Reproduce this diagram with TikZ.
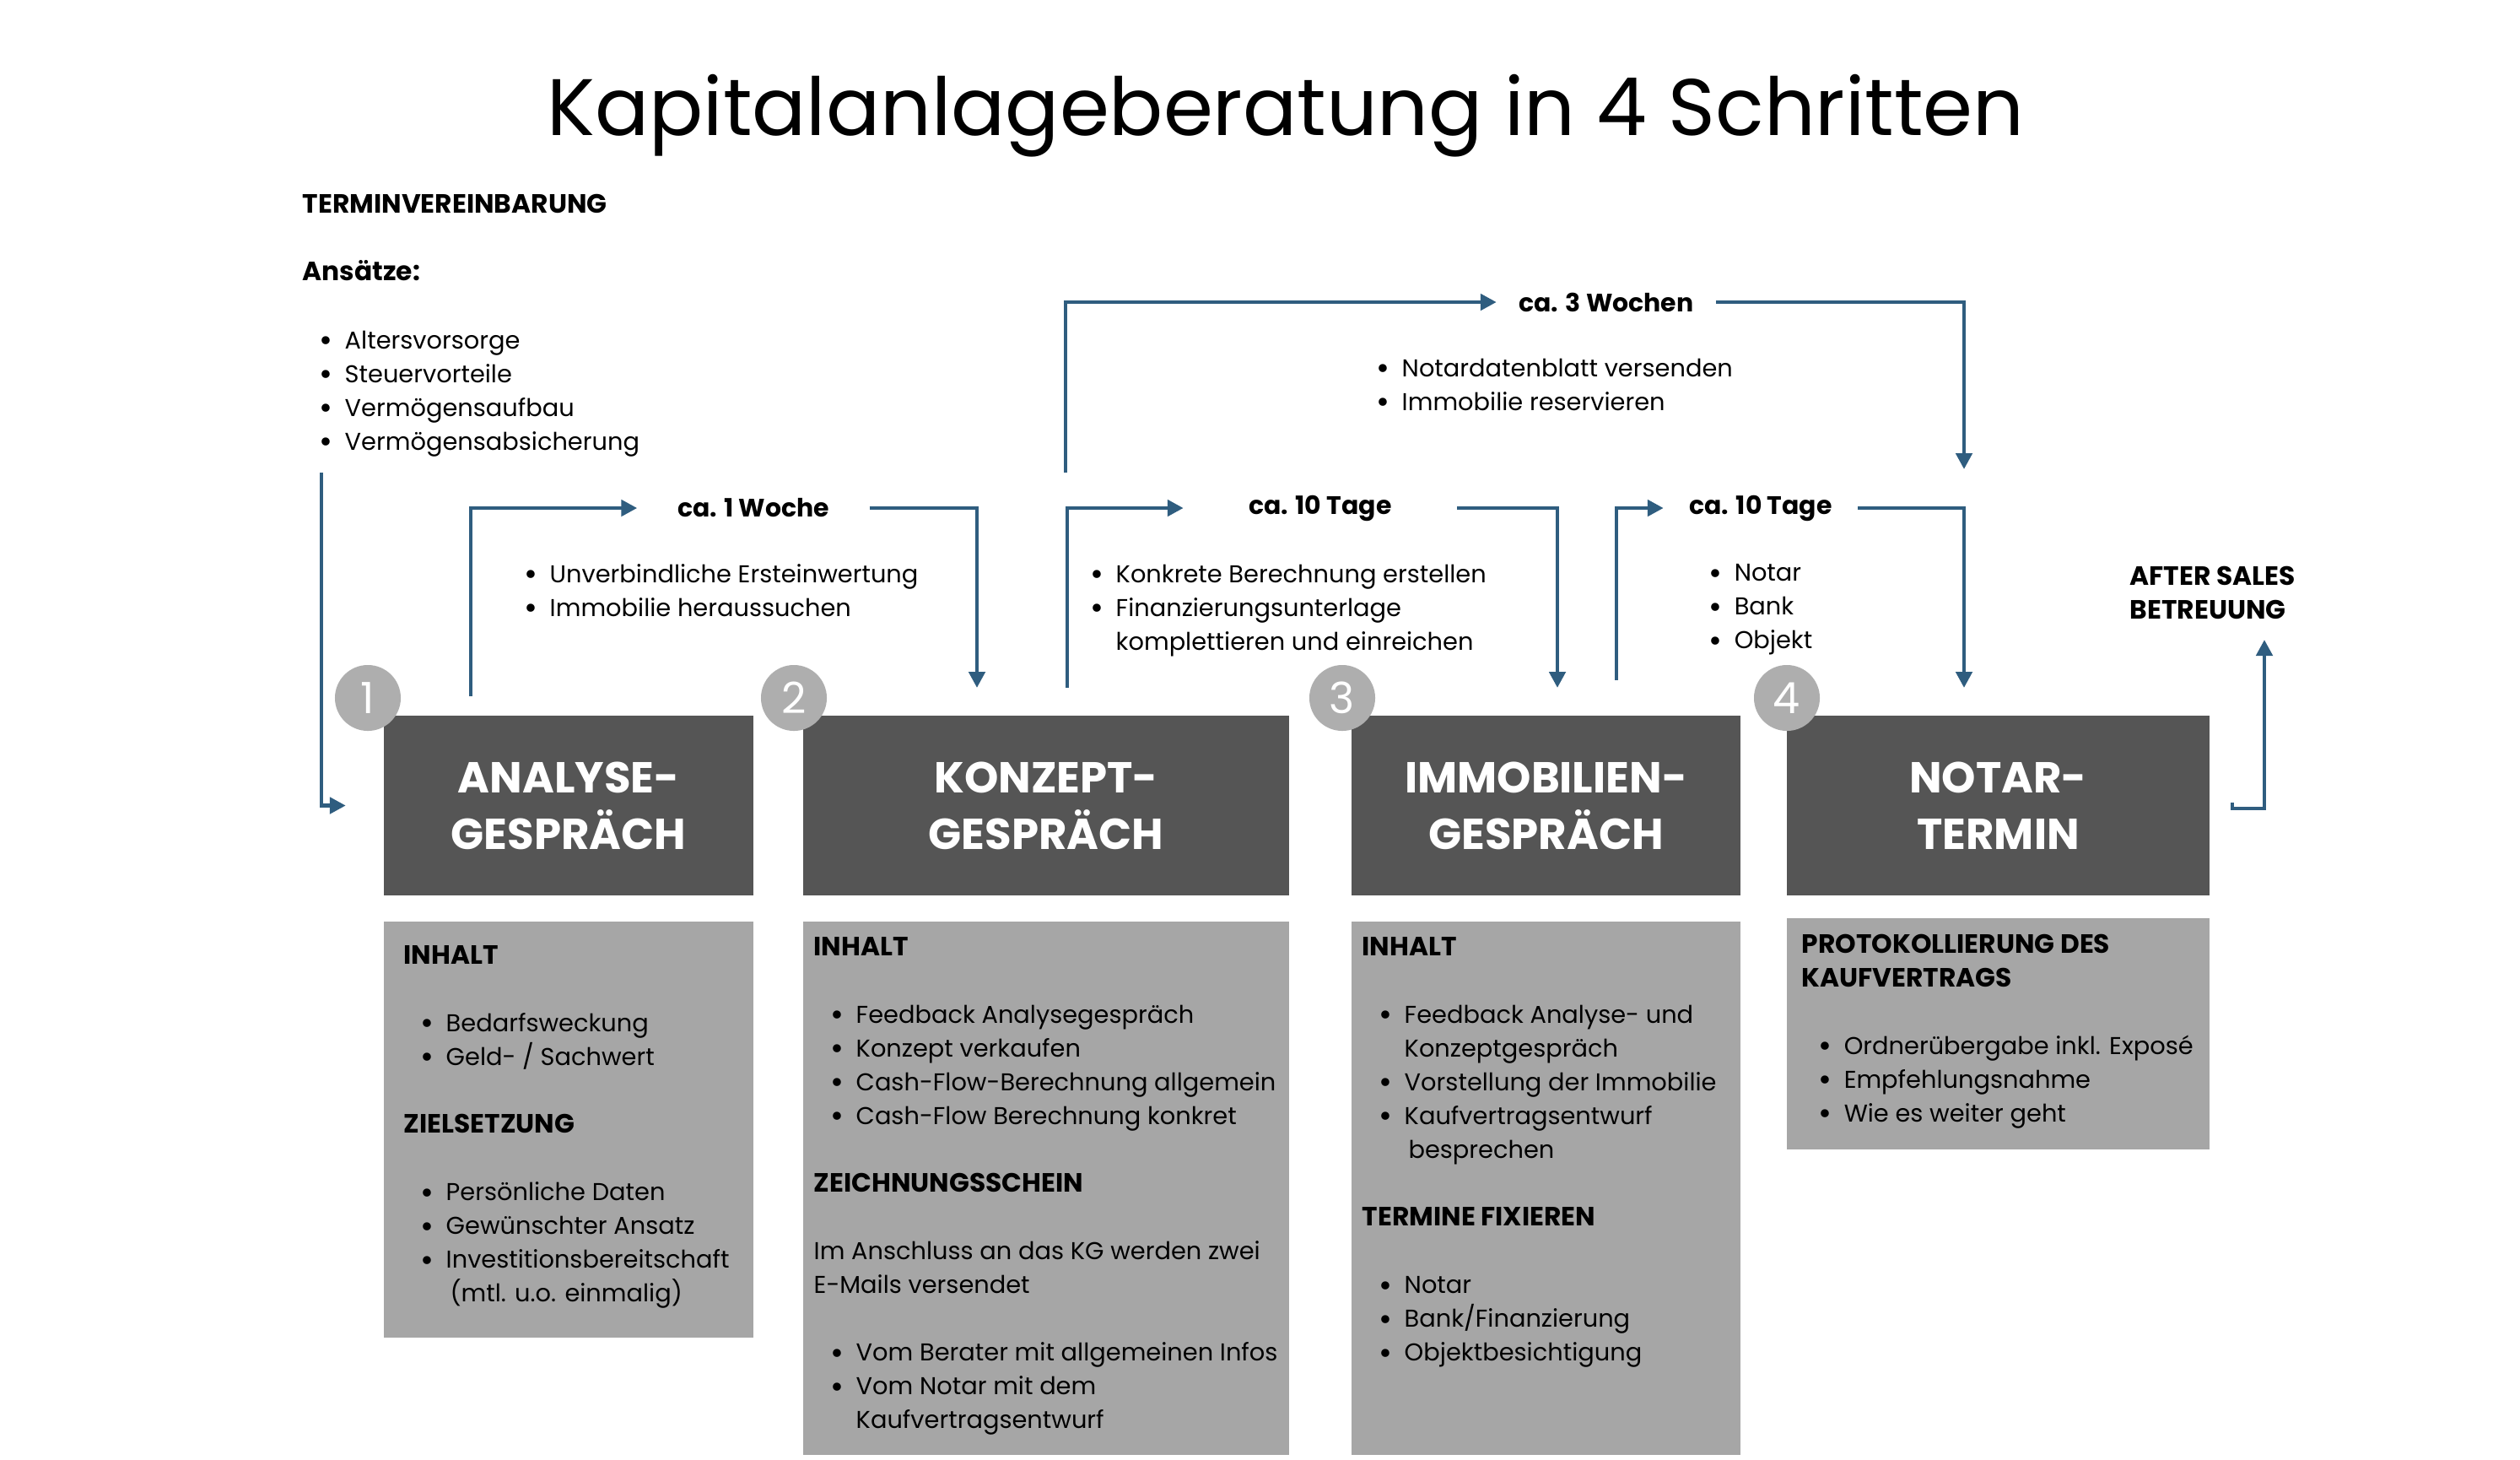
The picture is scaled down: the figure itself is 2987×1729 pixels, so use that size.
\documentclass[tikz,border=0pt]{standalone}
\usepackage{fontspec}
\setmainfont{Poppins}
\usepackage{tikz}
\usetikzlibrary{arrows.meta, positioning}
\definecolor{kabox}{HTML}{555555}
\definecolor{kalight}{HTML}{A6A6A6}
\definecolor{kacircle}{HTML}{AEAEAE}
\definecolor{kablue}{HTML}{2F5D7F}
\newcommand{\itm}[1]{\hspace*{0.2cm}\makebox[0.3cm][l]{\raisebox{-0.2ex}{\fontsize{11}{11}\selectfont\textbullet}}#1}
\newcommand{\cnt}[1]{\hspace*{0.5cm}#1}
\newcommand{\hd}[1]{{\fontsize{8.9}{11.38}\selectfont\bfseries #1}}

\begin{document}
\begin{tikzpicture}[x=0.01cm, y=-0.01cm,
  stepbox/.style={fill=kabox, inner sep=0pt, outer sep=0pt, minimum height=2.13cm, text=white, align=center, font=\fontsize{14.6}{19}\selectfont\bfseries},
  infobox/.style={fill=kalight, inner sep=0pt, outer sep=0pt},
  num/.style={circle, fill=kacircle, minimum size=0.78cm, inner sep=0pt, text=white, font=\fontsize{14.5}{16}\selectfont},
  txt/.style={anchor=north west, inner sep=0pt, align=left, font=\fontsize{8.2}{11.38}\selectfont},
  dur/.style={inner ysep=0pt, inner xsep=0.3cm, font=\fontsize{8.5}{11.38}\selectfont\bfseries},
  flow/.style={-{Triangle[length=0.19cm, width=0.19cm]}, draw=kablue, line width=1.4pt}
]
  \useasboundingbox (0,0) rectangle (2987,1729);

  % Title
  \node[font=\fontsize{27}{32}\selectfont, anchor=base] (title) at (1524,160) {Kapitalanlageberatung in 4 Schritten};

  % Terminvereinbarung
  \node[txt] (termin) at (358,230)
    {\hd{TERMINVEREINBARUNG}\\[\baselineskip]
     \hd{Ansätze:}\\[\baselineskip]
     \itm{Altersvorsorge}\\ \itm{Steuervorteile}\\ \itm{Vermögensaufbau}\\ \itm{Vermögensabsicherung}};

  % Step boxes
  \node[stepbox, minimum width=4.38cm] (analyse) at (674,954.5) {ANALYSE-\\GESPRÄCH};
  \node[stepbox, minimum width=5.76cm] (konzept) at (1240,954.5) {KONZEPT-\\GESPRÄCH};
  \node[stepbox, minimum width=4.61cm] (immo) at (1832.5,954.5) {IMMOBILIEN-\\GESPRÄCH};
  \node[stepbox, minimum width=5.01cm] (notar) at (2368.5,954.5) {NOTAR-\\TERMIN};

  % Step numbers
  \node[num] (n1) at (436,827) {1};
  \node[num] (n2) at (941,827) {2};
  \node[num] (n3) at (1591,827) {3};
  \node[num] (n4) at (2118,827) {4};

  % Info boxes
  \node[infobox, minimum width=4.38cm, minimum height=4.93cm] (info1) at (674,1338.5) {};
  \node[infobox, minimum width=5.76cm, minimum height=6.32cm] (info2) at (1240,1408) {};
  \node[infobox, minimum width=4.61cm, minimum height=6.32cm] (info3) at (1832.5,1408) {};
  \node[infobox, minimum width=5.01cm, minimum height=2.74cm] (info4) at (2368.5,1225) {};

  \node[txt] (c1) at (478,1120)
    {\hd{INHALT}\\[\baselineskip]
     \itm{Bedarfsweckung}\\ \itm{Geld- / Sachwert}\\[\baselineskip]
     \hd{ZIELSETZUNG}\\[\baselineskip]
     \itm{Persönliche Daten}\\ \itm{Gewünschter Ansatz}\\ \itm{Investitionsbereitschaft}\\
     \cnt{\,(mtl. u.o. einmalig)}};
  \node[txt] (c2) at (964,1110)
    {\hd{INHALT}\\[\baselineskip]
     \itm{Feedback Analysegespräch}\\ \itm{Konzept verkaufen}\\
     \itm{Cash-Flow-Berechnung allgemein}\\ \itm{Cash-Flow Berechnung konkret}\\[\baselineskip]
     \hd{ZEICHNUNGSSCHEIN}\\[\baselineskip]
     Im Anschluss an das KG werden zwei\\ E-Mails versendet\\[\baselineskip]
     \itm{Vom Berater mit allgemeinen Infos}\\ \itm{Vom Notar mit dem}\\ \cnt{Kaufvertragsentwurf}};
  \node[txt] (c3) at (1614,1110)
    {\hd{INHALT}\\[\baselineskip]
     \itm{Feedback Analyse- und}\\ \cnt{Konzeptgespräch}\\ \itm{Vorstellung der Immobilie}\\
     \itm{Kaufvertragsentwurf}\\ \cnt{\,besprechen}\\[\baselineskip]
     \hd{TERMINE FIXIEREN}\\[\baselineskip]
     \itm{Notar}\\ \itm{Bank/Finanzierung}\\ \itm{Objektbesichtigung}};
  \node[txt] (c4) at (2135,1106)
    {\hd{PROTOKOLLIERUNG DES}\\ \hd{KAUFVERTRAGS}\\[\baselineskip]
     \itm{Ordnerübergabe inkl. Exposé}\\ \itm{Empfehlungsnahme}\\ \itm{Wie es weiter geht}};

  % Durations and tasks between the steps
  \node[dur, inner xsep=0.47cm] (w1) at (893,602) {ca. 1 Woche};
  \node[dur, inner xsep=0.77cm] (w2) at (1565,602) {ca. 10 Tage};
  \node[dur] (w3) at (2087,602) {ca. 10 Tage};
  \node[dur, inner xsep=0.26cm] (w4) at (1904,358) {ca. 3 Wochen};

  \node[txt] (l1) at (601,668) {\itm{Unverbindliche Ersteinwertung}\\ \itm{Immobilie heraussuchen}};
  \node[txt] (l2) at (1272,668) {\itm{Konkrete Berechnung erstellen}\\ \itm{Finanzierungsunterlage}\\ \cnt{komplettieren und einreichen}};
  \node[txt] (l3) at (2005,668) {\itm{Notar}\\ \itm{Bank}\\ \itm{Objekt}};
  \node[txt] (l4) at (1611,424) {\itm{Notardatenblatt versenden}\\ \itm{Immobilie reservieren}};

  \node[txt] (after) at (2524,670) {\hd{AFTER SALES}\\ \hd{BETREUUNG}};

  % Connectors
  \coordinate (s0) at (381,560);
  \coordinate (a1) at (558,825);
  \coordinate (b1) at (1158,815);
  \coordinate (a2) at (1265,815);
  \coordinate (b2) at (1846,815);
  \coordinate (a3) at (1916,806);
  \coordinate (b3) at (2328,815);
  \coordinate (a4) at (1263,560);
  \coordinate (b4) at (2328,556);
  \coordinate (e0) at (2646,951);
  \coordinate (e1) at (2684,758);

  \draw[flow, shorten >=0.45cm] (s0) |- (analyse.west);
  \draw[flow] (a1) |- (w1);
  \draw[flow] (w1) -| (b1);
  \draw[flow] (a2) |- (w2);
  \draw[flow] (w2) -| (b2);
  \draw[flow] (a3) |- (w3);
  \draw[flow] (w3) -| (b3);
  \draw[flow] (a4) |- (w4);
  \draw[flow] (w4) -| (b4);
  \draw[flow] (e0) -- ++(0,7) -| (e1);
\end{tikzpicture}
\end{document}
